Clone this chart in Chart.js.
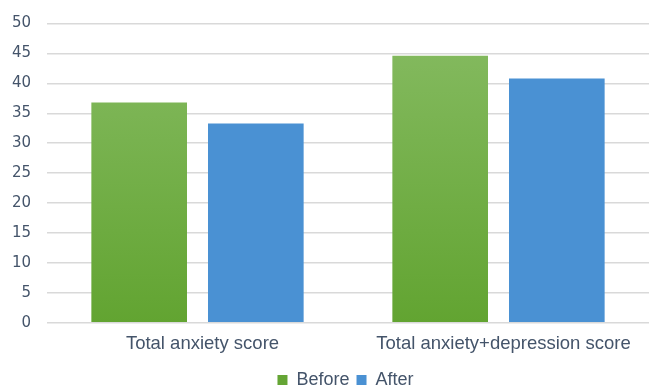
<!DOCTYPE html>
<html>
<head>
<meta charset="utf-8">
<script src="https://cdn.jsdelivr.net/npm/chart.js@4/dist/chart.umd.min.js"></script>
<style>
  html, body { margin: 0; padding: 0; background: #fff; overflow: hidden; }
  #clip { width: 649px; height: 386px; overflow: hidden; }
  /* a bit taller than the window so the legend is cut at the bottom like the original */
  #wrap { width: 649px; height: 399px; }
</style>
</head>
<body>
<div id="clip"><div id="wrap"><canvas id="myChart"></canvas></div></div>
<script>
// data
const categories = ['Total anxiety score', 'Total anxiety+depression score'];
const beforeValues = [36.8, 44.6];
const afterValues = [33.3, 40.8];
const yTicks = [0, 5, 10, 15, 20, 25, 30, 35, 40, 45, 50];

const textColor = '#44546a';

// green fill, lighter at the top
let greenFill = (ctx) => {
    const area = ctx.chart.chartArea;
    if (!area) return '#72ad48';
    const g = ctx.chart.ctx.createLinearGradient(0, area.top, 0, area.bottom);
    g.addColorStop(0, '#86bb62');
    g.addColorStop(1, '#62a431');
    return g;
};

// the legend sits a little right of centre in the original
const legendShift = {
    id: 'legendShift',
    afterLayout: (c) => {
        c.legend.left += 21;
        c.legend.right += 21;
    }
};

const chart = document.querySelector('#myChart').getContext('2d');
const myChart = new Chart(chart, {
    type: 'bar',
    data: {
        labels: categories,
        datasets: [{
            label: 'Before',
            data: beforeValues,
            backgroundColor: greenFill,
            borderWidth: 0
        }, {
            label: 'After',
            data: afterValues,
            backgroundColor: '#4a91d3',
            borderWidth: 0
        }]
    },
    plugins: [legendShift],
    options: {
        responsive: true,
        maintainAspectRatio: false,
        animation: false,
        categoryPercentage: 0.775,
        barPercentage: 0.82,
        layout: { padding: { left: 0, right: 0, top: 10, bottom: 0 } },
        plugins: {
            legend: {
                position: 'bottom',
                labels: {
                    color: textColor,
                    font: { family: 'Liberation Sans', size: 18 },
                    boxWidth: 10,
                    boxHeight: 10,
                    padding: 7,
                    generateLabels: (c) => Chart.defaults.plugins.legend.labels.generateLabels(c).map((l, i) => {
                        l.fillStyle = i === 0 ? '#65a535' : '#4a91d3';
                        return l;
                    })
                }
            },
            tooltip: { enabled: false }
        },
        scales: {
            x: {
                grid: { display: false },
                border: { display: false },
                afterFit: (axis) => { axis.height += 7; },
                ticks: {
                    color: textColor,
                    font: { family: 'Liberation Sans', size: 18.5 },
                    padding: 2,
                    labelOffset: 5
                }
            },
            y: {
                min: 0,
                max: 50,
                afterBuildTicks: (axis) => {
                    axis.ticks = yTicks.map(v => ({ value: v }));
                },
                afterFit: (axis) => { axis.width = 47; },
                grid: { color: '#d9d9d9', lineWidth: 1.5, drawTicks: false },
                border: { display: false },
                ticks: {
                    color: textColor,
                    font: { family: 'DejaVu Sans', size: 15, lineHeight: 1 },
                    padding: 16
                }
            }
        }
    }
});
</script>
</body>
</html>
